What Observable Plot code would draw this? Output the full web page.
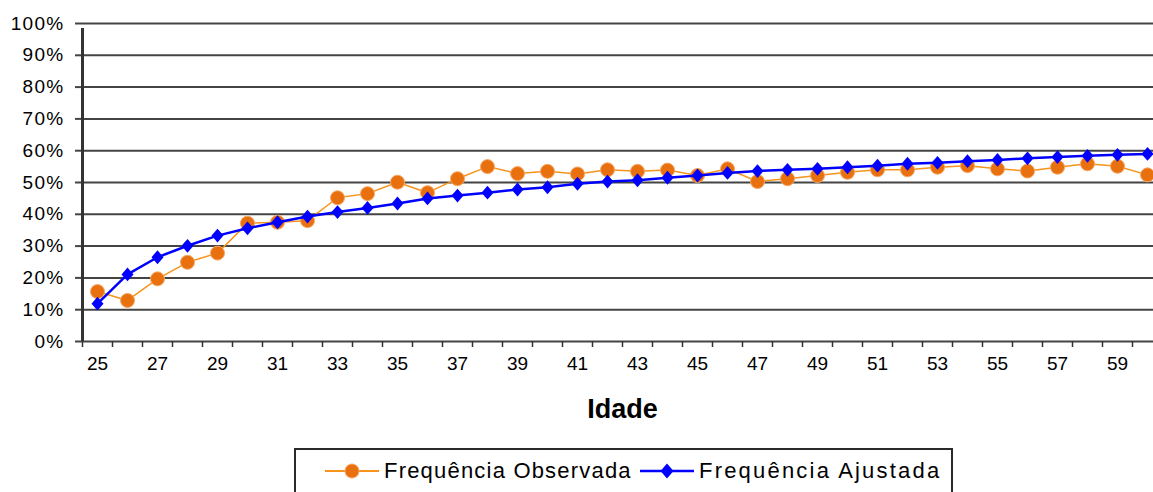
<!DOCTYPE html>
<html><head><meta charset="utf-8">
<script src="https://cdn.jsdelivr.net/npm/d3@7"></script>
<script src="https://cdn.jsdelivr.net/npm/@observablehq/plot@0.6"></script>
<style>
html,body{margin:0;padding:0;overflow:hidden;background:#fff;width:1153px;height:492px}
#wrap{position:relative;width:1153px;height:492px;overflow:hidden}
#chart svg{display:block;max-width:none !important}
#legend{position:absolute;left:294px;top:448px;width:659px;height:60px;border:2px solid #2a2a2a;box-sizing:border-box;font-family:"Liberation Sans",Arial,sans-serif;font-size:22px;letter-spacing:1.2px;color:#000}
.item{position:absolute;top:7px;display:flex;align-items:center;height:28px;white-space:nowrap}
.item svg{margin-right:5px}
</style></head><body><div id="wrap"><div id="chart"></div><div id="legend"></div></div>
<script>
const ages = [25,26,27,28,29,30,31,32,33,34,35,36,37,38,39,40,41,42,43,44,45,46,47,48,49,50,51,52,53,54,55,56,57,58,59,60];
const observed = [15.7,12.9,19.7,24.9,27.8,37.2,37.5,38.0,45.2,46.5,50.1,46.8,51.2,55.0,52.8,53.5,52.7,54.0,53.5,53.9,52.2,54.3,50.3,51.2,52.2,53.2,54.0,54.0,54.8,55.3,54.3,53.6,54.8,55.9,55.1,52.4];
const fitted = [11.9,21.1,26.5,30.1,33.3,35.6,37.5,39.3,40.7,42.0,43.4,45.0,45.9,46.8,47.8,48.5,49.6,50.3,50.7,51.5,52.2,53.0,53.6,54.0,54.3,54.8,55.3,55.9,56.2,56.7,57.1,57.6,58.0,58.4,58.7,59.0];
const yTicks = [0,10,20,30,40,50,60,70,80,90,100];
const xLabelTicks = [25,27,29,31,33,35,37,39,41,43,45,47,49,51,53,55,57,59];
const seriesNames = ["Frequência Observada","Frequência Ajustada"];
const axisTitle = "Idade";

const rows = ages.map((a,i)=>({age:a, obs:observed[i], fit:fitted[i]}));
const boundaries = ages.map(a=>a-0.5).concat([ages[ages.length-1]+0.5]);

const diamond = {
  draw(ctx, size){
    const r = Math.sqrt(size/Math.PI);
    ctx.moveTo(0,-r*1.15); ctx.lineTo(r,0); ctx.lineTo(0,r*1.15); ctx.lineTo(-r,0); ctx.closePath();
  }
};

const W = 1170, H = 440;
const chart = Plot.plot({
  width: W, height: H,
  marginLeft: 82, marginRight: 8, marginTop: 23, marginBottom: H - 341,
  x: {type:"linear", domain:[ages[0]-0.5, ages[ages.length-1]+0.5]},
  y: {domain:[0,100]},
  style: {fontFamily:'"Liberation Sans", Arial, sans-serif', fontSize:"19px", background:"#fff", color:"#000", maxWidth:"none"},
  marks: [
    Plot.gridY(yTicks, {stroke:"#444", strokeWidth:2, strokeOpacity:1}),
    Plot.axisY({ticks:yTicks, tickFormat:d=>d+"%", tickSize:7, tickPadding:11, stroke:"#444", strokeWidth:2, fontSize:19, label:null}),
    Plot.axisX({ticks:boundaries, tickSize:6, tickFormat:()=>"", label:null, stroke:"#333", strokeWidth:1.5}),
    Plot.axisX({ticks:xLabelTicks, tickSize:0, tickPadding:15, tickFormat:d=>String(d), label:null, fontSize:19}),
    Plot.ruleX([ages[0]-0.5], {y1:0, y2:100, stroke:"#333", strokeWidth:3, insetBottom:-5}),
    Plot.text([axisTitle], {frameAnchor:"bottom", dy:76, fontSize:27, fontWeight:"bold"}),
    Plot.line(rows, {x:"age", y:"obs", stroke:"#F7941D", strokeWidth:1.5}),
    Plot.dot(rows, {x:"age", y:"obs", r:7, fill:"#E8700F", stroke:"#F6A864", strokeWidth:1}),
    Plot.line(rows, {x:"age", y:"fit", stroke:"#0000FF", strokeWidth:2.5}),
    Plot.dot(rows, {x:"age", y:"fit", symbol:diamond, r:6, fill:"#0000FF"})
  ]
});
d3.select(chart).selectAll("g[aria-label='y-axis tick label'] text").style("letter-spacing","1.3px");
document.getElementById("chart").append(chart);

const legend = document.getElementById("legend");
const swatches = [
  `<svg width="54" height="20"><line x1="0" y1="10" x2="54" y2="10" stroke="#F7941D" stroke-width="2"/><circle cx="27" cy="10" r="7" fill="#E8700F" stroke="#F6A864"/></svg>`,
  `<svg width="54" height="20"><line x1="0" y1="10" x2="54" y2="10" stroke="#0000FF" stroke-width="2.5"/><path d="M27,2.5L33.5,10L27,17.5L20.5,10Z" fill="#0000FF"/></svg>`
];
const lefts = [29, 344];
const spacings = ["1.2px", "2.2px"];
seriesNames.forEach((name,i)=>{
  const d = document.createElement("div");
  d.className = "item";
  d.style.left = lefts[i] + "px";
  d.style.letterSpacing = spacings[i];
  d.innerHTML = swatches[i] + `<span>${name}</span>`;
  legend.append(d);
});
</script></body></html>
